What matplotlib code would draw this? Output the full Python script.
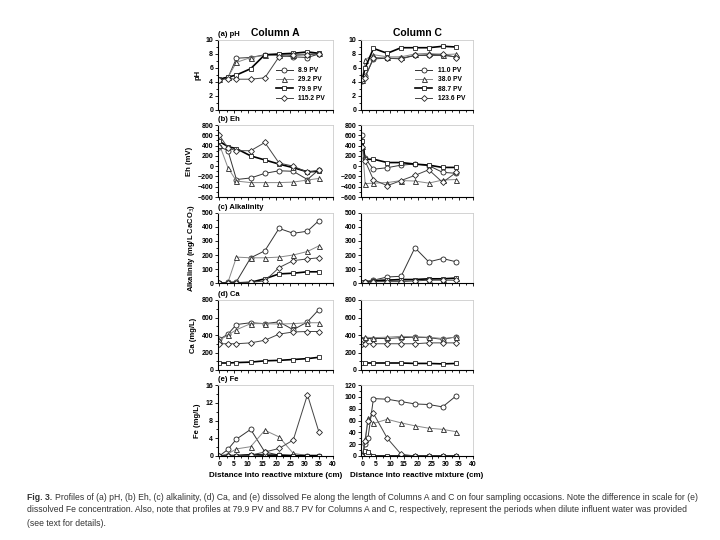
import matplotlib
matplotlib.use('Agg')
import matplotlib.pyplot as plt
from matplotlib.ticker import MultipleLocator
import numpy as np

plt.rcParams['font.family'] = ['Liberation Sans', 'DejaVu Sans']

# sampling positions (cm)
xA = [0, 3, 6, 11, 16, 21, 26, 31, 35]
xC = [0, 1, 4, 9, 14, 19, 24, 29, 34]
xC_fe = [0, 1, 2, 4, 9, 14, 19, 24, 29, 34]

labels_A = ['8.9 PV', '29.2 PV', '79.9 PV', '115.2 PV']
labels_C = ['11.0 PV', '38.0 PV', '88.7 PV', '123.6 PV']

# (a) pH
pH_A = [[4.3, 4.6, 7.4, 7.5, 7.9, 7.8, 7.6, 7.5, 8.0],
        [4.4, 4.7, 6.8, 7.5, 7.8, 7.9, 7.9, 8.0, 8.1],
        [4.4, 4.7, 5.0, 5.9, 7.9, 8.0, 8.1, 8.3, 8.1],
        [4.3, 4.5, 4.4, 4.4, 4.6, 7.6, 7.8, 7.9, 8.0]]
pH_C = [[4.2, 4.8, 7.3, 7.4, 7.4, 7.8, 7.8, 7.8, 7.6],
        [4.3, 7.2, 7.9, 7.6, 7.6, 8.0, 8.1, 7.9, 8.0],
        [4.4, 6.0, 8.8, 8.1, 8.9, 8.9, 8.9, 9.1, 9.0],
        [4.5, 4.6, 7.5, 7.4, 7.3, 7.8, 7.9, 8.0, 7.5]]

# (b) Eh (mV)
Eh_A = [[380, 300, -260, -230, -140, -90, -100, -260, -70],
        [420, -30, -290, -320, -320, -320, -310, -270, -240],
        [480, 380, 340, 200, 120, 40, -30, -110, -100],
        [600, 350, 300, 300, 460, 60, 0, -120, -80]]
Eh_C = [[600, 150, -60, -30, 20, 40, 10, -120, -140],
        [400, -340, -330, -320, -280, -290, -330, -270, -260],
        [480, 130, 135, 70, 70, 40, 20, -25, -25],
        [380, 100, -265, -380, -280, -180, -70, -315, -120]]

# (c) Alkalinity (mg/L CaCO3)
Alk_A = [[0, 5, 10, 180, 230, 390, 355, 370, 445],
         [0, 5, 185, 180, 180, 185, 200, 225, 265],
         [0, 0, 0, 5, 30, 65, 70, 80, 80],
         [0, 0, 0, 5, 15, 110, 160, 172, 180]]
Alk_C = [[0, 10, 20, 43, 48, 252, 151, 175, 151],
         [0, 15, 20, 25, 20, 22, 25, 30, 35],
         [0, 5, 15, 20, 25, 25, 30, 30, 35],
         [0, 5, 10, 10, 10, 15, 20, 20, 20]]

# (d) Ca (mg/L)
Ca_A = [[350, 410, 520, 540, 530, 550, 460, 550, 690],
        [340, 400, 460, 530, 530, 525, 530, 540, 540],
        [80, 80, 85, 90, 105, 110, 120, 130, 145],
        [300, 300, 300, 310, 340, 410, 435, 440, 440]]
Ca_C = [[340, 360, 360, 360, 370, 375, 370, 350, 380],
        [360, 375, 370, 375, 385, 380, 375, 360, 375],
        [80, 80, 80, 80, 80, 75, 75, 70, 75],
        [300, 300, 300, 300, 300, 300, 310, 310, 310]]

# (e) Fe (mg/L)
Fe_A = [[0, 1.5, 3.8, 6.0, 0.9, 0.2, 0.1, 0.1, 0.1],
        [0, 0.5, 1.6, 2.1, 5.8, 4.3, 0.6, 0.1, 0.1],
        [0, 0.1, 0.1, 0.3, 0.2, 0.2, 0.1, 0.1, 0.1],
        [0, 0.1, 0.1, 0.2, 0.9, 1.7, 3.6, 13.8, 5.5]]
Fe_C = [[0, 20, 30, 97, 96, 92, 88, 87, 83, 102],
        [0, 28, 64, 55, 62, 56, 51, 47, 45, 41],
        [0, 8, 7, 0, 0, 0, 0, 0, 0, 0],
        [0, 25, 60, 72, 30, 3, 0, 0, 0, 0]]

markers = ['o', '^', 's', 'D']
mksize = [3.6, 3.6, 3.4, 3.0]
lcols = ['#333333', '#888888', '#000000', '#444444']
lws = [0.7, 0.7, 1.2, 0.7]

fig = plt.figure(figsize=(7.2, 5.4), dpi=100)

def px_axes(l, r, t, b):
    return fig.add_axes([l/720, 1 - b/540, (r-l)/720, (b-t)/540])

rows_px = [(40, 110), (125, 197), (213, 283), (300, 370), (385, 456)]
colA = (218, 333)
colC = (361, 473)

panels = [
    ('(a) pH', 'pH', pH_A, pH_C, (0, 10), 2, 1, (0, 10), 2, 1),
    ('(b) Eh', 'Eh (mV)', Eh_A, Eh_C, (-600, 800), 200, 100, (-600, 800), 200, 100),
    ('(c) Alkalinity', 'Alkalinity (mg/L CaCO$_3$)', Alk_A, Alk_C, (0, 500), 100, 50, (0, 500), 100, 50),
    ('(d) Ca', 'Ca (mg/L)', Ca_A, Ca_C, (0, 800), 200, 100, (0, 800), 200, 100),
    ('(e) Fe', 'Fe (mg/L)', Fe_A, Fe_C, (0, 16), 4, 2, (0, 120), 20, 10),
]

for r, (tag, ylab, dA, dC, limA, majA, minA, limC, majC, minC) in enumerate(panels):
    t, b = rows_px[r]
    for c, (col, data, lim, maj, mnr, labs) in enumerate([
            (colA, dA, limA, majA, minA, labels_A),
            (colC, dC, limC, majC, minC, labels_C)]):
        ax = px_axes(col[0], col[1], t, b)
        if c == 1 and r == 4:
            xs_list = [xC_fe] * 4
        elif c == 1:
            xs_list = [xC] * 4
        else:
            xs_list = [xA] * 4
        for i in range(4):
            ax.plot(xs_list[i], data[i], marker=markers[i], ms=mksize[i], mfc='white',
                    mec='#222222', mew=0.6, color=lcols[i], lw=lws[i], label=labs[i])
        ax.set_xlim(-0.5, 40)
        ax.set_ylim(*lim)
        ax.xaxis.set_major_locator(MultipleLocator(5))
        ax.xaxis.set_minor_locator(MultipleLocator(2.5))
        ax.yaxis.set_major_locator(MultipleLocator(maj))
        ax.yaxis.set_minor_locator(MultipleLocator(mnr))
        ax.tick_params(which='both', direction='out', labelsize=5, length=2, width=0.6, pad=1.5)
        ax.tick_params(which='minor', length=1.2)
        for lbl in ax.get_yticklabels() + ax.get_xticklabels():
            lbl.set_fontweight('bold')
        for s in ['left', 'bottom']:
            ax.spines[s].set_linewidth(0.8)
        for s in ['top', 'right']:
            ax.spines[s].set_color('#cccccc')
            ax.spines[s].set_linewidth(0.6)
        if r < 4:
            ax.set_xticklabels([])
        else:
            ax.set_xticks(np.arange(0, 41, 5))
            for lbl in ax.get_xticklabels():
                lbl.set_fontweight('bold')
            ax.set_xlabel('Distance into reactive mixture (cm)', fontsize=5.8,
                          family=['Liberation Sans Narrow', 'Liberation Sans', 'DejaVu Sans'],
                          fontweight='bold', labelpad=3)
        if c == 0:
            ax.set_ylabel(ylab, fontsize=5.5, fontweight='bold', labelpad=3)
            ax.text(0.0, 1.03, tag, transform=ax.transAxes, fontsize=5.5,
                    fontweight='bold', ha='left', va='bottom')
        if r == 0:
            ax.set_title('Column A' if c == 0 else 'Column C', fontsize=7.5,
                         fontweight='bold', pad=3)
            ax.legend(loc='lower right', frameon=False,
                      handlelength=2.6, labelspacing=0.35, borderaxespad=0.8,
                      prop={'weight': 'bold', 'size': 4.8})

# caption
cap_y = 497
cap_kw = dict(fontsize=6.2, color='#333333', va='center', ha='left')
fig.text(27/720, 1 - cap_y/540, 'Fig. 3.', fontweight='bold', **cap_kw)
fig.text(55/720, 1 - cap_y/540, 'Profiles of (a) pH, (b) Eh, (c) alkalinity, (d) Ca, and (e) dissolved Fe along the length of Columns A and C on four sampling occasions. Note the difference in scale for (e)',
         **cap_kw)
fig.text(27/720, 1 - (cap_y + 13)/540, 'dissolved Fe concentration. Also, note that profiles at 79.9 PV and 88.7 PV for Columns A and C, respectively, represent the periods when dilute influent water was provided',
         **cap_kw)
fig.text(27/720, 1 - (cap_y + 26)/540, '(see text for details).', **cap_kw)

plt.savefig('out.png', dpi=100)
